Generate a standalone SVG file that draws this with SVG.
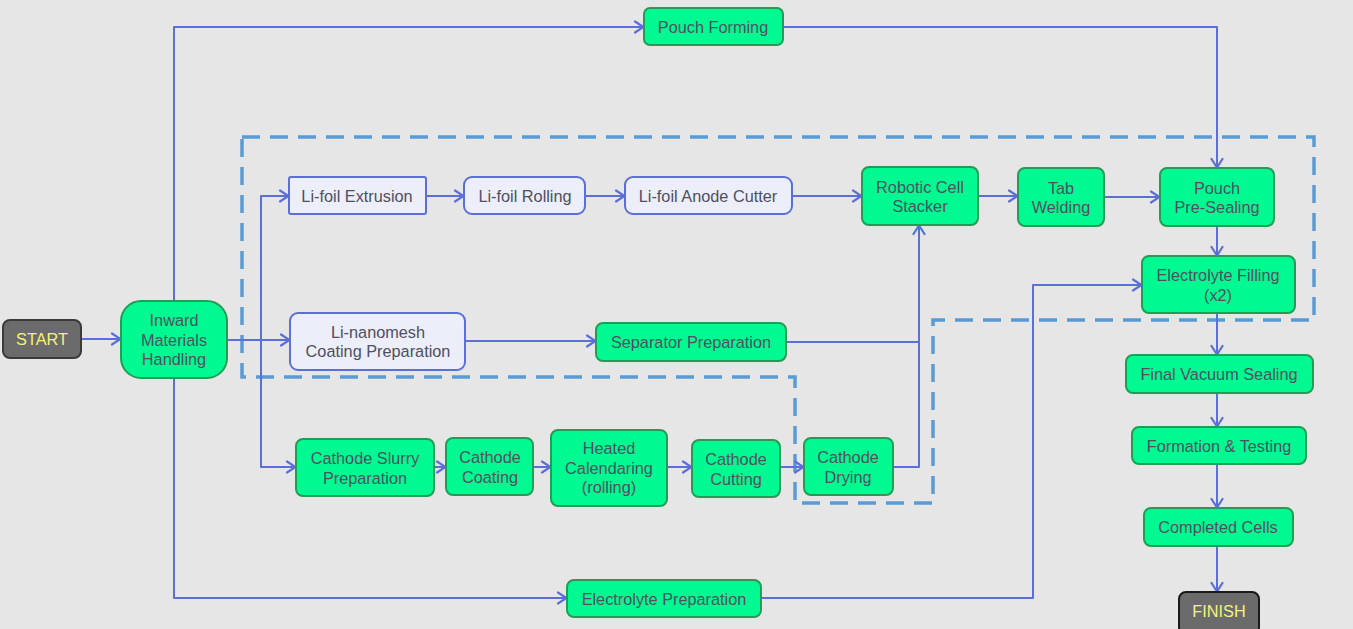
<svg xmlns="http://www.w3.org/2000/svg" width="1353" height="629" viewBox="0 0 1353 629">
<style>
text{font-family:"Liberation Sans",Arial,sans-serif;font-size:16.3px;fill:#4f4f62;text-anchor:middle;dominant-baseline:central}
.g{fill:#00f990;stroke:#239c55;stroke-width:2}
.l{fill:#eceef9;stroke:#5b6fd6;stroke-width:2}
.t{fill:#6b6b6b;stroke:#3a3a3a;stroke-width:2}
.t + text{fill:#f2f27a}
.c{fill:none;stroke:#5b6fd6;stroke-width:2;stroke-linejoin:round}
.a{marker-end:url(#arr)}
.d{fill:none;stroke:#5b9bd5;stroke-width:3.5;stroke-dasharray:18 10}
</style>
<defs>
<marker id="arr" viewBox="0 0 12 14" refX="11" refY="7" markerWidth="12" markerHeight="14" markerUnits="userSpaceOnUse" orient="auto">
<path d="M2,1.5 L10.5,7 L2,12.5" fill="none" stroke="#5b6fd6" stroke-width="2.2" stroke-linecap="round"/>
</marker>
</defs>
<rect width="1353" height="629" fill="#e6e6e6"/>
<path class="d" d="M242,137 H1314 V320 H933 V503 H795 V377 H242 Z"/>
<g id="connectors">
<path class="c a" d="M81,339 H121"/>
<path class="c a" d="M174,301 V27 H644"/>
<path class="c a" d="M783,27 H1217 V168"/>
<path class="c" d="M227,340 H261"/>
<path class="c a" d="M261,340 V196 H289"/>
<path class="c a" d="M261,340 H290"/>
<path class="c a" d="M261,340 V467 H296"/>
<path class="c a" d="M174,378 V598 H567"/>
<path class="c a" d="M761,598 H1033 V285 H1142"/>
<path class="c a" d="M426,196 H464"/>
<path class="c a" d="M585,196 H625"/>
<path class="c a" d="M792,196 H862"/>
<path class="c a" d="M978,196 H1018"/>
<path class="c a" d="M1104,197 H1160"/>
<path class="c a" d="M1217,226 V256"/>
<path class="c a" d="M1217,313 V355"/>
<path class="c a" d="M1217,393 V427"/>
<path class="c a" d="M1217,464 V508"/>
<path class="c a" d="M1217,546 V592"/>
<path class="c a" d="M465,341 H596"/>
<path class="c a" d="M786,342 H919 V225"/>
<path class="c" d="M893,467 H919 V342"/>
<path class="c a" d="M434,467 H446"/>
<path class="c a" d="M533,467 H551"/>
<path class="c a" d="M667,467 H692"/>
<path class="c a" d="M780,467 H804"/>
</g>
<g id="start"><rect class="t" x="3" y="320" width="78" height="38" rx="7"/><text x="42" y="339">START</text></g>
<g id="inward"><rect class="g" x="121" y="301" width="106" height="77" rx="20"/><text x="174" y="320">Inward</text><text x="174" y="340">Materials</text><text x="174" y="359">Handling</text></g>
<g id="pouch-forming"><rect class="g" x="644" y="8" width="139" height="37" rx="6"/><text x="713" y="27">Pouch Forming</text></g>
<g id="li-foil-extrusion"><rect class="l" x="289" y="177" width="137" height="37" rx="2"/><text x="357" y="196">Li-foil Extrusion</text></g>
<g id="li-foil-rolling"><rect class="l" x="464" y="177" width="121" height="37" rx="8"/><text x="525" y="196">Li-foil Rolling</text></g>
<g id="li-foil-cutter"><rect class="l" x="625" y="177" width="167" height="37" rx="8"/><text x="708" y="196">Li-foil Anode Cutter</text></g>
<g id="robotic-stacker"><rect class="g" x="862" y="167" width="116" height="58" rx="7"/><text x="920" y="187">Robotic Cell</text><text x="920" y="206">Stacker</text></g>
<g id="tab-welding"><rect class="g" x="1018" y="168" width="86" height="58" rx="7"/><text x="1061" y="188">Tab</text><text x="1061" y="207">Welding</text></g>
<g id="pouch-presealing"><rect class="g" x="1160" y="168" width="114" height="58" rx="7"/><text x="1217" y="188">Pouch</text><text x="1217" y="207">Pre-Sealing</text></g>
<g id="electrolyte-filling"><rect class="g" x="1142" y="256" width="153" height="57" rx="7"/><text x="1218" y="275">Electrolyte Filling</text><text x="1218" y="295">(x2)</text></g>
<g id="li-nanomesh"><rect class="l" x="290" y="313" width="175" height="57" rx="8"/><text x="378" y="332">Li-nanomesh</text><text x="378" y="351">Coating Preparation</text></g>
<g id="separator"><rect class="g" x="596" y="323" width="190" height="38" rx="7"/><text x="691" y="342">Separator Preparation</text></g>
<g id="cathode-slurry"><rect class="g" x="296" y="439" width="138" height="57" rx="7"/><text x="365" y="458">Cathode Slurry</text><text x="365" y="478">Preparation</text></g>
<g id="cathode-coating"><rect class="g" x="446" y="438" width="87" height="57" rx="7"/><text x="490" y="457">Cathode</text><text x="490" y="477">Coating</text></g>
<g id="heated-calendaring"><rect class="g" x="551" y="430" width="116" height="76" rx="7"/><text x="609" y="448">Heated</text><text x="609" y="468">Calendaring</text><text x="609" y="487">(rolling)</text></g>
<g id="cathode-cutting"><rect class="g" x="692" y="440" width="88" height="57" rx="7"/><text x="736" y="459">Cathode</text><text x="736" y="479">Cutting</text></g>
<g id="cathode-drying"><rect class="g" x="804" y="438" width="89" height="57" rx="7"/><text x="848" y="457">Cathode</text><text x="848" y="477">Drying</text></g>
<g id="electrolyte-prep"><rect class="g" x="567" y="580" width="194" height="37" rx="7"/><text x="664" y="599">Electrolyte Preparation</text></g>
<g id="final-vacuum"><rect class="g" x="1126" y="355" width="187" height="38" rx="7"/><text x="1219" y="374">Final Vacuum Sealing</text></g>
<g id="formation"><rect class="g" x="1132" y="427" width="174" height="37" rx="7"/><text x="1219" y="446">Formation &amp; Testing</text></g>
<g id="completed"><rect class="g" x="1144" y="508" width="149" height="38" rx="7"/><text x="1218" y="527">Completed Cells</text></g>
<g id="finish"><rect class="t" x="1179" y="592" width="80" height="42" rx="7" style="stroke:#1a1a1a"/><text x="1219" y="611">FINISH</text></g>
</svg>
